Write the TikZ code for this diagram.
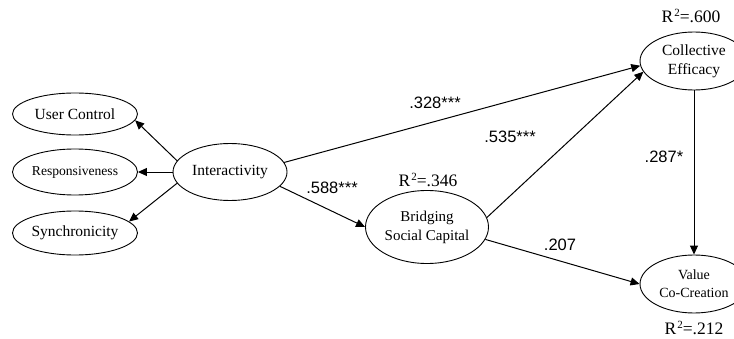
\documentclass[tikz,border=0pt]{standalone}
\usepackage{fontspec}
\setmainfont{Liberation Serif}
\newfontfamily\arialf{Liberation Sans}
\usetikzlibrary{shapes.geometric,arrows.meta}
\newcommand{\rtwo}[1]{R\hspace{1pt}\raisebox{5.5pt}{\fontsize{11}{11}\selectfont 2}#1}
\tikzset{
  lat/.style={ellipse,draw,line width=0.9pt,inner sep=0pt,align=center,font=\fontsize{15.5}{19}\selectfont},
  coef/.style={font=\arialf\fontsize{16.5}{18}\selectfont,inner sep=0pt},
  rsq/.style={font=\fontsize{17.5}{18}\selectfont,inner sep=0pt},
  arr/.style={line width=1pt,-{Triangle[length=9pt,width=8pt]}}
}
\begin{document}
\begin{tikzpicture}[x=1pt,y=1pt]
\useasboundingbox (0,0) rectangle (734,338);
\node[lat,minimum width=125pt,minimum height=42pt] (uc) at (75,224) {User Control};
\node[lat,minimum width=125pt,minimum height=46pt,font=\fontsize{13.6}{16}\selectfont] (resp) at (75,166) {Responsiveness};
\node[lat,minimum width=125pt,minimum height=44pt] (sync) at (75,105) {Synchronicity};
\node[lat,minimum width=114pt,minimum height=57pt] (int) at (230,166) {Interactivity};
\node[lat,minimum width=123pt,minimum height=73pt,font=\fontsize{15}{19}\selectfont] (bsc) at (427,111) {Bridging\\Social Capital};
\node[lat,minimum width=108pt,minimum height=58pt] (ce) at (694,277) {Collective\\Efficacy};
\node[lat,minimum width=108pt,minimum height=58pt,font=\fontsize{14}{18}\selectfont] (vcc) at (694,54) {Value\\Co-Creation};

\draw[arr] (int.168) -- (uc.-6);
\draw[arr] (int.west) -- (resp.east);
\draw[arr] (int.192) -- (sync.12);
\draw[arr] (int.10) -- (ce.185);
\draw[arr] (int.-16) -- (bsc.west);
\draw[arr] (bsc.9) -- (ce.192);
\draw[arr] (bsc.-12) -- (vcc.west);
\draw[arr] (ce.south) -- (vcc.north);

\node[rsq] (r1) at (691,322) {\rtwo{=.600}};
\node[rsq] (r2) at (428,158) {\rtwo{=.346}};
\node[rsq] (r3) at (694,10) {\rtwo{=.212}};
\node[coef] (c1) at (435,235) {.328***};
\node[coef] (c2) at (510,201) {.535***};
\node[coef] (c3) at (332,150) {.588***};
\node[coef] (c4) at (560,93) {.207};
\node[coef] (c5) at (664,181) {.287*};
\end{tikzpicture}
\end{document}
